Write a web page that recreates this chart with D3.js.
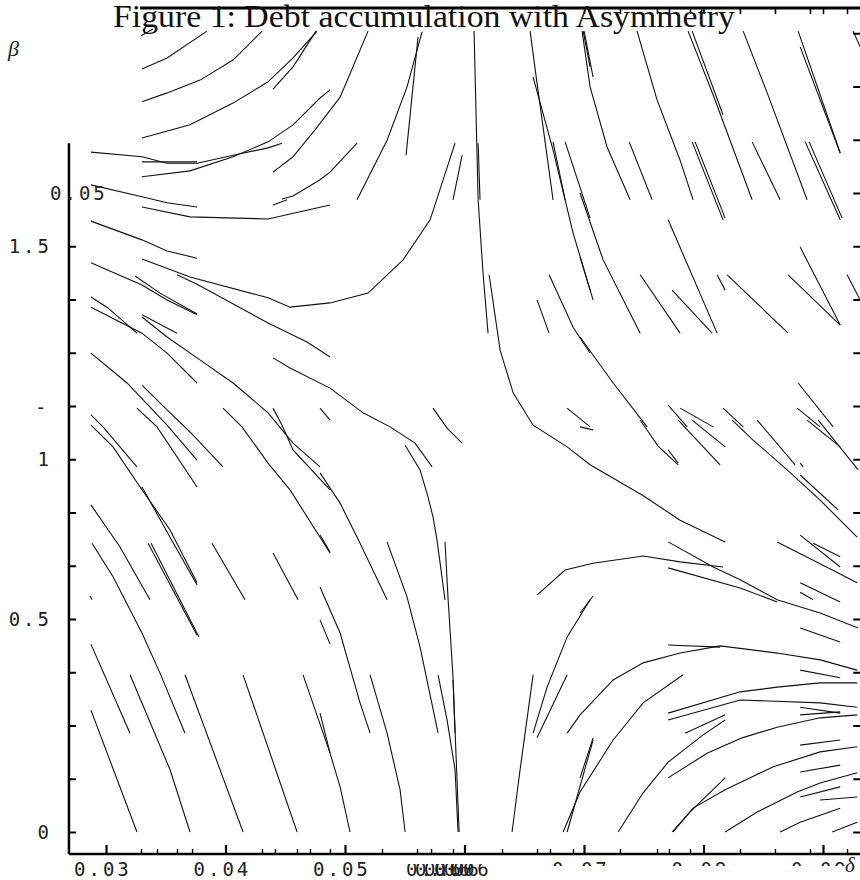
<!DOCTYPE html>
<html lang="en">
<head>
<meta charset="UTF-8" />
<title>Debt accumulation with Asymmetry</title>
<style>
  body { margin: 0; background: #fff; }
  svg { display: block; }
</style>
</head>
<body>
<script src="https://cdn.jsdelivr.net/npm/d3@7"></script>
<script>
// trajectories, [delta, beta] pairs
const flowUpperLeft = [
  [[0.03293,1.869],[0.03393,1.885]],
  [[0.03301,1.791],[0.03511,1.817],[0.03845,1.880]],
  [[0.03301,1.714],[0.03511,1.735],[0.03787,1.765],[0.04063,1.812],[0.04306,1.880]],
  [[0.03301,1.629],[0.03703,1.660],[0.04063,1.711],[0.04356,1.761],[0.04565,1.817],[0.04766,1.880]],
  [[0.04398,1.744],[0.04565,1.796],[0.04758,1.880]],
  [[0.02874,1.596],[0.03301,1.585],[0.03511,1.570],[0.03762,1.570],[0.04122,1.592],[0.04356,1.606],[0.04473,1.617]],
  [[0.03301,1.573],[0.03762,1.573]],
  [[0.03301,1.538],[0.03703,1.552],[0.04063,1.585],[0.04356,1.620],[0.04565,1.660],[0.04791,1.723],[0.04875,1.742]],
  [[0.04398,1.549],[0.04565,1.585],[0.04749,1.648],[0.04959,1.725],[0.05193,1.880]],
  [[0.04473,1.486],[0.04565,1.493],[0.04791,1.531],[0.04875,1.549],[0.05101,1.617]],
  [[0.04398,1.472],[0.04515,1.484]],
  [[0.03301,1.467],[0.03703,1.444],[0.04356,1.439],[0.04875,1.472]],
  [[0.02874,1.519],[0.03301,1.491],[0.03511,1.477],[0.03762,1.467]],
  [[0.02874,1.434],[0.03301,1.390],[0.03511,1.364],[0.03762,1.347]],
  [[0.03301,1.345],[0.03703,1.303],[0.04356,1.254],[0.04540,1.232],[0.04875,1.242],[0.05193,1.265],[0.05486,1.343],[0.05712,1.437],[0.05921,1.617]],
  [[0.02874,1.336],[0.03301,1.284],[0.03511,1.249],[0.03762,1.214]],
  [[0.03243,1.305],[0.03452,1.265],[0.03762,1.216]],
  [[0.03594,1.308],[0.03762,1.286],[0.04356,1.195],[0.04682,1.150],[0.04875,1.115]],
  [[0.02874,1.256],[0.03008,1.232],[0.03259,1.171]],
  [[0.02874,1.232],[0.03301,1.171],[0.03511,1.124],[0.03762,1.054]],
  [[0.03301,1.214],[0.03594,1.171]],
  [[0.03301,1.209],[0.03511,1.162],[0.03762,1.113],[0.04063,1.054],[0.04356,0.984],[0.04565,0.913],[0.04791,0.857]],
  [[0.04398,1.113],[0.04540,1.089],[0.04875,1.042],[0.05151,0.984],[0.05377,0.951],[0.05586,0.913],[0.05729,0.857]],
  [[0.02874,1.124],[0.03176,1.054],[0.03511,0.955],[0.03762,0.873]],
  [[0.03301,1.049],[0.03511,0.991],[0.03703,0.939],[0.03979,0.857]],
  [[0.03259,0.995],[0.03427,0.951],[0.03762,0.810]],
  [[0.03979,0.995],[0.04138,0.951],[0.04356,0.866],[0.04540,0.803],[0.04875,0.655]],
  [[0.04398,0.995],[0.04473,0.955],[0.04565,0.897],[0.04875,0.803]],
  [[0.02874,0.979],[0.02975,0.951],[0.03259,0.857]],
  [[0.04791,0.995],[0.04875,0.967]]
];

const flowCentre = [
  [[0.05101,1.484],[0.05352,1.624],[0.05519,1.749],[0.05645,1.878]],
  [[0.05511,1.589],[0.05611,1.866]],
  [[0.05904,1.484],[0.05980,1.589]],
  [[0.06080,1.880],[0.06114,1.484],[0.06155,1.312],[0.06197,1.171]],
  [[0.06114,1.617],[0.06130,1.484]],
  [[0.06206,1.308],[0.06298,1.131],[0.06407,1.031],[0.06574,0.955],[0.06859,0.904],[0.07051,0.862],[0.07486,0.791],[0.07804,0.732],[0.08181,0.681]],
  [[0.06574,1.772],[0.06741,1.601],[0.06909,1.406],[0.07051,1.272]],
  [[0.06549,1.880],[0.06607,1.758],[0.06741,1.484]],
  [[0.06741,1.620],[0.06842,1.484]],
  [[0.06842,1.620],[0.07051,1.441]],
  [[0.06993,1.880],[0.07051,1.796]],
  [[0.06708,1.308],[0.06909,1.185],[0.07051,1.124]],
  [[0.06607,1.249],[0.06708,1.171]],
  [[0.05737,0.995],[0.05854,0.948],[0.05980,0.913]],
  [[0.06859,0.995],[0.07051,0.951]]
];

const flowUpperRight = [
  [[0.06984,1.880],[0.07051,1.749],[0.07193,1.608],[0.07386,1.484]],
  [[0.07001,1.880],[0.07076,1.772]],
  [[0.07444,1.880],[0.07612,1.718],[0.07804,1.577],[0.07913,1.484]],
  [[0.07871,1.880],[0.08081,1.730],[0.08407,1.484]],
  [[0.07905,1.880],[0.08164,1.683]],
  [[0.08332,1.880],[0.08533,1.735],[0.08867,1.484]],
  [[0.08792,1.880],[0.09144,1.594]],
  [[0.08809,1.843],[0.09144,1.594]],
  [[0.09252,1.880],[0.09311,1.843]],
  [[0.07378,1.620],[0.07570,1.484]],
  [[0.07905,1.620],[0.08164,1.437]],
  [[0.07930,1.620],[0.08181,1.441]],
  [[0.08407,1.620],[0.08641,1.484]],
  [[0.08851,1.620],[0.09144,1.437]],
  [[0.08884,1.620],[0.09160,1.441]],
  [[0.06967,1.500],[0.07160,1.343],[0.07470,1.171]],
  [[0.06967,1.350],[0.07076,1.249]],
  [[0.07470,1.308],[0.07804,1.171]],
  [[0.07704,1.437],[0.08114,1.171]],
  [[0.07737,1.272],[0.08072,1.171]],
  [[0.08114,1.308],[0.08181,1.272]],
  [[0.08198,1.308],[0.08708,1.171]],
  [[0.08708,1.308],[0.09144,1.190]],
  [[0.09202,1.308],[0.09311,1.249]],
  [[0.08809,1.373],[0.09144,1.190]],
  [[0.06967,1.162],[0.07244,1.054],[0.07528,0.951]],
  [[0.07704,1.002],[0.07863,0.951]],
  [[0.07804,0.995],[0.08081,0.951]],
  [[0.08164,0.995],[0.08332,0.951]],
  [[0.08784,0.995],[0.08976,0.951]],
  [[0.08792,1.054],[0.09085,0.951]]
];

const flowLowerLeft = [
  [[0.02874,0.955],[0.03059,0.904],[0.03285,0.810],[0.03536,0.709],[0.03762,0.585]],
  [[0.03301,0.810],[0.03536,0.692],[0.03762,0.580]],
  [[0.02883,0.678],[0.03059,0.599],[0.03301,0.467],[0.03452,0.373],[0.03661,0.232]],
  [[0.03352,0.678],[0.03762,0.462]],
  [[0.03377,0.678],[0.03778,0.458]],
  [[0.03887,0.678],[0.04163,0.545]],
  [[0.04398,0.655],[0.04607,0.545]],
  [[0.02874,0.441],[0.03201,0.232]],
  [[0.03201,0.369],[0.03301,0.303],[0.03536,0.146],[0.03703,0]],
  [[0.03661,0.369],[0.04147,0]],
  [[0.04147,0.369],[0.04599,0]],
  [[0.04649,0.369],[0.04875,0.185]],
  [[0.02874,0.286],[0.03259,0]],
  [[0.02866,0.554],[0.02883,0.545]],
  [[0.02874,0.768],[0.03117,0.669],[0.03368,0.545]]
];

const flowLowerMiddle = [
  [[0.05503,0.908],[0.05628,0.850],[0.05695,0.786],[0.05737,0.739],[0.05770,0.685],[0.05837,0.545]],
  [[0.04791,0.843],[0.04959,0.772],[0.05126,0.678],[0.05352,0.545]],
  [[0.04791,0.697],[0.04875,0.657]],
  [[0.04791,0.575],[0.04959,0.467],[0.05126,0.303],[0.05210,0.232]],
  [[0.05352,0.681],[0.05519,0.552],[0.05628,0.434],[0.05779,0.232]],
  [[0.05837,0.681],[0.05863,0.545],[0.05904,0.364],[0.05921,0.232]],
  [[0.05779,0.369],[0.05854,0.263],[0.05921,0.146],[0.05946,0]],
  [[0.05904,0.357],[0.05955,0]],
  [[0.04791,0.498],[0.04875,0.441]],
  [[0.04791,0.279],[0.04875,0.185],[0.04959,0.106],[0.05042,0]],
  [[0.05210,0.369],[0.05352,0.232],[0.05461,0.099],[0.05503,0]],
  [[0.06398,0],[0.06465,0.146],[0.06574,0.369]],
  [[0.06574,0.232],[0.06691,0.340],[0.06859,0.458],[0.07051,0.545]],
  [[0.06607,0.221],[0.06859,0.369]],
  [[0.06607,0.556],[0.06842,0.615],[0.07076,0.631],[0.07495,0.648],[0.07804,0.634],[0.08164,0.622]],
  [[0.06825,0],[0.06967,0.094],[0.07244,0.216],[0.07495,0.303],[0.07829,0.369]],
  [[0.06859,0],[0.07076,0.216]]
];

const flowLowerRight = [
  [[0.06967,0.951],[0.07076,0.944]],
  [[0.07470,0.967],[0.07620,0.906],[0.07788,0.862]],
  [[0.07704,0.897],[0.07788,0.866]],
  [[0.07788,0.967],[0.08139,0.862]],
  [[0.07905,0.967],[0.08181,0.904]],
  [[0.08240,0.967],[0.08415,0.920],[0.08700,0.850],[0.08976,0.779],[0.09286,0.692]],
  [[0.08449,0.967],[0.08767,0.862]],
  [[0.08867,0.967],[0.09144,0.904]],
  [[0.08960,0.967],[0.09294,0.850]],
  [[0.08809,0.866],[0.08834,0.857]],
  [[0.08809,0.838],[0.09127,0.756]],
  [[0.07704,0.681],[0.08081,0.622],[0.08307,0.592],[0.08616,0.545],[0.08976,0.514],[0.09294,0.479]],
  [[0.07704,0.620],[0.08307,0.573],[0.08616,0.540]],
  [[0.08616,0.681],[0.08918,0.638],[0.09286,0.585]],
  [[0.08809,0.697],[0.09144,0.622]],
  [[0.08918,0.678],[0.09144,0.646]],
  [[0.08809,0.585],[0.09144,0.540]],
  [[0.08809,0.563],[0.08918,0.545]],
  [[0.08809,0.479],[0.09144,0.446]],
  [[0.07704,0.439],[0.08139,0.434]],
  [[0.06859,0.232],[0.06967,0.275],[0.07244,0.357],[0.07495,0.397],[0.07804,0.420],[0.08139,0.437],[0.08616,0.420],[0.08976,0.404],[0.09286,0.380]],
  [[0.08809,0.380],[0.09144,0.362]],
  [[0.07704,0.279],[0.08307,0.329],[0.08616,0.340],[0.08976,0.350],[0.09286,0.350]],
  [[0.07704,0.263],[0.08307,0.310],[0.08976,0.303],[0.09286,0.293]],
  [[0.08809,0.293],[0.09144,0.279]],
  [[0.08809,0.275],[0.09144,0.282]],
  [[0.07846,0.232],[0.08181,0.275]],
  [[0.07704,0.127],[0.08030,0.185],[0.08323,0.221],[0.08616,0.246],[0.08976,0.268],[0.09286,0.275]],
  [[0.07286,0],[0.07495,0.092],[0.07704,0.164],[0.07997,0.228],[0.08181,0.263]],
  [[0.07737,0],[0.07888,0.047],[0.08181,0.127]],
  [[0.07746,0],[0.07913,0.056],[0.08181,0.099],[0.08583,0.153],[0.08976,0.188],[0.09286,0.200]],
  [[0.08181,0],[0.08449,0.047],[0.08784,0.094],[0.08976,0.115],[0.09286,0.139]],
  [[0.08641,0],[0.08809,0.023],[0.09144,0.056]],
  [[0.09077,0],[0.09286,0.023]],
  [[0.08809,0.082],[0.09144,0.106]],
  [[0.08809,0.141],[0.09144,0.157]],
  [[0.08809,0.204],[0.09144,0.216]],
  [[0.08976,0.075],[0.09286,0.082]],
  [[0.06967,0.127],[0.07076,0.221]],
  [[0.06967,0.514],[0.07076,0.554]]
];

// axes
const xMajorTicks = [0.03, 0.04, 0.05, 0.06, 0.07, 0.08, 0.09];
const xMinorTicks = [0.03293, 0.03427, 0.03594, 0.03720, 0.04305, 0.04414, 0.04598, 0.04707, 0.04874,
  0.05310, 0.05603, 0.05720, 0.05904, 0.06314, 0.06607, 0.06715, 0.06908, 0.07301, 0.07611, 0.07711,
  0.07887, 0.08305, 0.08598, 0.08891, 0.09201];
const xLabels = ["0.03", "0.04", "0.05"];
const xLabelsCut = ["0.07", "0.08", "0.09"];
const xLabelCutValues = [0.07, 0.08, 0.09];
const xJumbleLabel = "0.06";
const xJumbleOffsets = [0.05778, 0.05853, 0.05929, 0.06013];
const yTicks = [0, 0.125, 0.25, 0.375, 0.5, 0.625, 0.75, 0.875, 1, 1.125, 1.25, 1.375, 1.5, 1.625, 1.75, 1.875];
const yLabelValues = [0, 0.5, 0.875, 1.375];
const yLabels = ["0", "0.5", "1", "1.5"];
const yStrayLabel = { value: 1.5, text: "0.05" };
const yDash = { value: 0.99, text: "-" };
const xAxisExtent = [0.0269, 0.0932];
const yAxisExtent = [-0.0516, 1.617];
const topRuleExtent = [0.03285, 0.0932];
const topRuleBeta = 1.934;

const W = 860, H = 880;
const svg = d3.select("body").append("svg")
  .attr("width", W)
  .attr("height", H)
  .style("font-family", "'DejaVu Sans Mono', monospace");

const x = d3.scaleLinear().domain([0.03, 0.09]).range([106, 823]);
const y = d3.scaleLinear().domain([0, 0.5]).range([832, 619]);

const line = d3.line().x(d => x(d[0])).y(d => y(d[1]));

const flows = [].concat(flowUpperLeft, flowCentre, flowUpperRight, flowLowerLeft, flowLowerMiddle, flowLowerRight);

svg.append("g")
  .selectAll("path")
  .data(flows)
  .join("path")
  .attr("d", line)
  .attr("fill", "none")
  .attr("stroke", "#111")
  .attr("stroke-width", 1.1);

// frame lines
const axisY0 = y(yAxisExtent[0]);
const axisX0 = x(xAxisExtent[0]);
svg.append("line")
  .attr("x1", x(xAxisExtent[0])).attr("x2", x(xAxisExtent[1]))
  .attr("y1", axisY0).attr("y2", axisY0)
  .attr("stroke", "#000").attr("stroke-width", 2.5);
svg.append("line")
  .attr("x1", axisX0).attr("x2", axisX0)
  .attr("y1", y(yAxisExtent[0])).attr("y2", y(yAxisExtent[1]))
  .attr("stroke", "#000").attr("stroke-width", 2.5);
svg.append("line")
  .attr("x1", x(topRuleExtent[0])).attr("x2", x(topRuleExtent[1]))
  .attr("y1", y(topRuleBeta)).attr("y2", y(topRuleBeta))
  .attr("stroke", "#000").attr("stroke-width", 3);

function styleTicks(g, w) {
  g.select(".domain").remove();
  g.selectAll(".tick line").attr("stroke", "#000").attr("stroke-width", w);
}

svg.append("g")
  .attr("transform", `translate(0,${axisY0})`)
  .call(d3.axisBottom(x).tickValues(xMajorTicks).tickSize(-9).tickFormat(""))
  .call(styleTicks, 2.2);
svg.append("g")
  .attr("transform", `translate(0,${axisY0})`)
  .call(d3.axisBottom(x).tickValues(xMinorTicks).tickSize(-5).tickFormat(""))
  .call(styleTicks, 1.4);
svg.append("g")
  .attr("transform", `translate(0,${y(topRuleBeta)})`)
  .call(d3.axisTop(x).tickValues(xMajorTicks.concat(xMinorTicks).filter(v => v >= 0.07)).tickSize(-6).tickFormat(""))
  .call(styleTicks, 1.6);
svg.append("g")
  .attr("transform", `translate(${axisX0},0)`)
  .call(d3.axisLeft(y).tickValues(yTicks.filter(v => v <= 1.375)).tickSize(-7).tickFormat(""))
  .call(styleTicks, 2);
svg.append("g")
  .attr("transform", `translate(${x(xAxisExtent[1])},0)`)
  .call(d3.axisRight(y).tickValues(yTicks).tickSize(-8).tickFormat(""))
  .call(styleTicks, 2);

// tick labels
const labelStyle = sel => sel
  .attr("font-size", 19)
  .attr("letter-spacing", 3)
  .attr("fill", "#222");

svg.append("g").selectAll("text")
  .data(xLabels)
  .join("text")
  .attr("x", (d, i) => x(xMajorTicks[i]) - 32)
  .attr("y", 876)
  .text(d => d)
  .call(labelStyle);

const defs = svg.append("defs");
defs.append("clipPath").attr("id", "cut-top")
  .append("rect").attr("x", 0).attr("y", 864).attr("width", W).attr("height", 20);
defs.append("clipPath").attr("id", "cut-bottom")
  .append("rect").attr("x", 0).attr("y", 855).attr("width", W).attr("height", 11);

svg.append("g").attr("clip-path", "url(#cut-top)")
  .selectAll("text")
  .data(xJumbleOffsets)
  .join("text")
  .attr("x", d => x(d) - 32)
  .attr("y", 876)
  .text(xJumbleLabel)
  .call(labelStyle);

svg.append("g").attr("clip-path", "url(#cut-bottom)")
  .selectAll("text")
  .data(xLabelsCut)
  .join("text")
  .attr("x", (d, i) => x(xLabelCutValues[i]) - 32)
  .attr("y", 876)
  .text(d => d)
  .call(labelStyle);

svg.append("g").selectAll("text")
  .data(yLabels)
  .join("text")
  .attr("x", 52)
  .attr("y", (d, i) => y(yLabelValues[i]) + 7)
  .attr("text-anchor", "end")
  .text(d => d)
  .call(labelStyle);

svg.append("text")
  .attr("x", 50)
  .attr("y", y(yStrayLabel.value) + 7)
  .text(yStrayLabel.text)
  .call(labelStyle);

svg.append("text")
  .attr("x", 35)
  .attr("y", y(yDash.value) + 4)
  .text(yDash.text)
  .call(labelStyle);

// axis names and title
svg.append("text")
  .attr("x", 8).attr("y", 56)
  .attr("font-family", "'Liberation Serif', serif")
  .attr("font-style", "italic")
  .attr("font-size", 22)
  .attr("fill", "#222")
  .text("β");

svg.append("text")
  .attr("x", 845).attr("y", 872)
  .attr("font-family", "'Liberation Serif', serif")
  .attr("font-style", "italic")
  .attr("font-size", 21)
  .attr("fill", "#222")
  .text("δ");

svg.append("text")
  .attr("x", 113).attr("y", 27)
  .attr("font-family", "'Liberation Serif', serif")
  .attr("font-size", 31)
  .attr("textLength", 622)
  .attr("lengthAdjust", "spacingAndGlyphs")
  .attr("fill", "#111")
  .text("Figure 1: Debt accumulation with Asymmetry");
</script>
</body>
</html>
